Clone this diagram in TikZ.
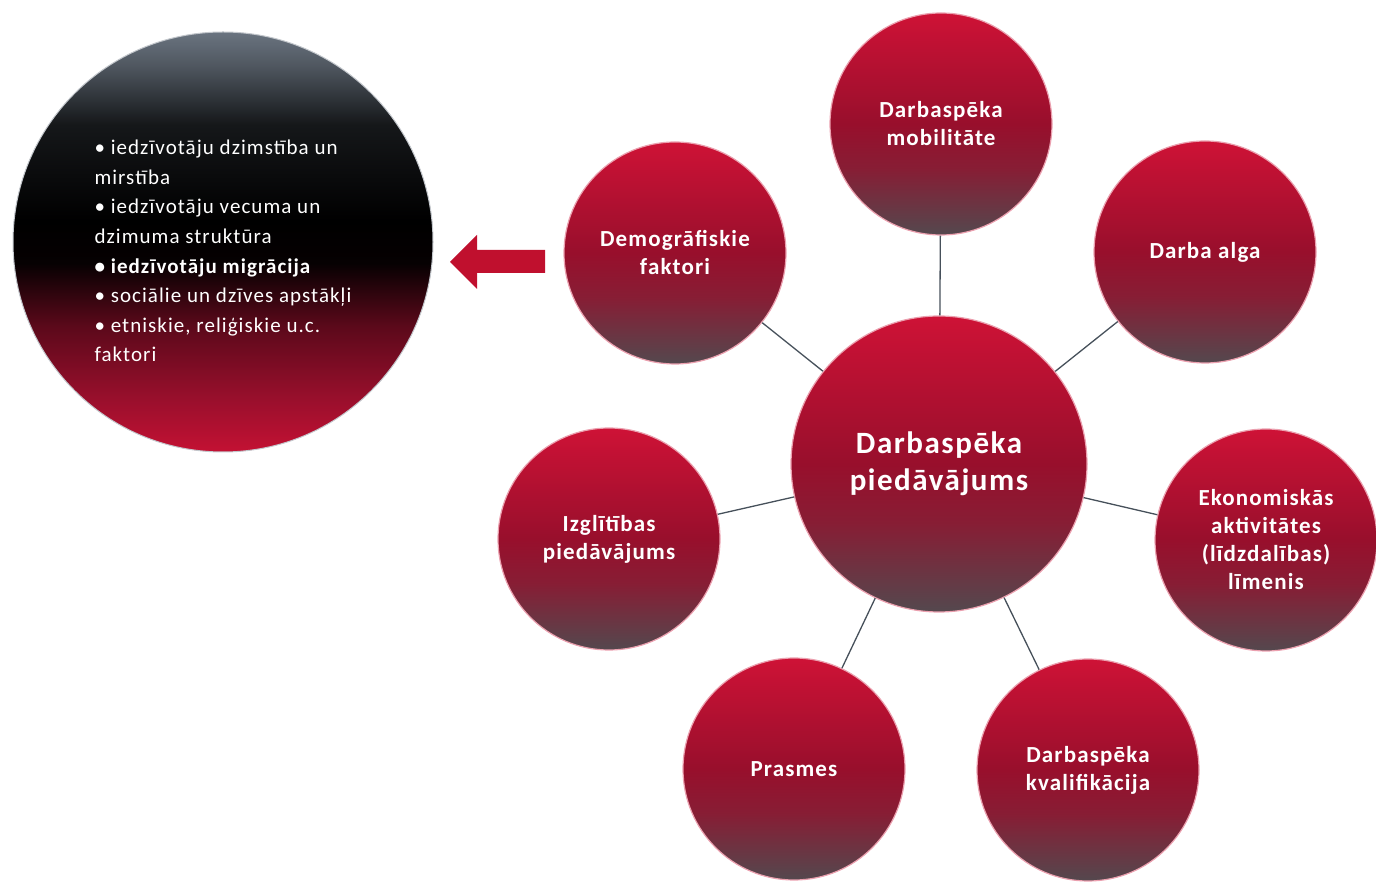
\documentclass[tikz,border=0pt]{standalone}
\usepackage{fontspec}
\setmainfont{Carlito}
\newfontfamily\bongfont[LetterSpace=5]{Carlito}
\definecolor{dndotren}{HTML}{CE1236}
\definecolor{dndogiua}{HTML}{980F2C}
\definecolor{dnxam}{HTML}{54484E}
\definecolor{dnxamxanh}{HTML}{6A7480}
\definecolor{dnduong}{HTML}{46505A}
\definecolor{dnmuiten}{HTML}{C0102E}
\def\maudo{dndotren}
\def\mauduong{dnduong}
\pgfdeclareverticalshading{bongdo}{100bp}{color(0bp)=(dnxam); color(25bp)=(dnxam); color(40bp)=(dndogiua!75!dnxam); color(50bp)=(dndogiua); color(75bp)=(dndotren); color(100bp)=(dndotren)}
\pgfdeclareverticalshading{bongden}{100bp}{color(0bp)=(dndotren!95!black); color(25bp)=(dndotren!95!black); color(31.5bp)=(dndogiua); color(40bp)=(dndogiua!60!black); color(47.5bp)=(black!96!dndogiua); color(52.5bp)=(black); color(64bp)=(black!80!dnxamxanh); color(71bp)=(dnxamxanh!75!black); color(75bp)=(dnxamxanh); color(100bp)=(dnxamxanh)}
\usepackage{tikz}

\begin{document}
\begin{tikzpicture}[x=1pt,y=1pt,declare function={R=148;r=111;Rt=210;}]
		\tikzstyle{ballstyle} = [circle,inner sep=0pt,minimum size={2*r},shade,shading=bongdo,draw=white!60!\maudo,line width=1.2pt,text=white,align=center,font=\bongfont\bfseries\fontsize{23}{28}\selectfont]
		\tikzstyle{bigballstyle} = [ballstyle,minimum size={2*R},font=\bongfont\bfseries\fontsize{31}{37}\selectfont]
		\tikzstyle{darkballstyle} = [circle,inner sep=0pt,minimum size={2*Rt},shade,shading=bongden,draw=white!60!dnxamxanh,line width=1pt]
		\tikzstyle{textstyle} = [inner sep=0pt,text=white,align=left,font=\bongfont\fontsize{21}{29.6}\selectfont]
		\tikzstyle{linestyle} = [line width=1.3pt,\mauduong]
		\useasboundingbox (0,0) rectangle (1376,881);
		% bong trung tam va cac bong xung quanh
		\node[bigballstyle] (cung) at (939,417) {Darbaspēka\\piedāvājums};
		\node[ballstyle] (mob) at (941,757) {Darbaspēka\\mobilitāte};
		\node[ballstyle] (alga) at (1205,629) {Darba alga};
		\node[ballstyle] (eko) at (1266,341) {Ekonomiskās\\aktivitātes\\(līdzdalības)\\līmenis};
		\node[ballstyle] (kval) at (1088,111) {Darbaspēka\\kvalifikācija};
		\node[ballstyle] (pras) at (794,112) {Prasmes};
		\node[ballstyle] (izgl) at (609,342) {Izglītības\\piedāvājums};
		\node[ballstyle] (demo) at (675,628) {Demogrāfiskie\\faktori};
		\foreach \n in {mob,alga,eko,kval,pras,izgl,demo}
		\draw[linestyle] (cung)--(\n);
		% bong den ben trai
		\node[darkballstyle] (dem) at (223,639) {};
		\node[textstyle] (demtxt) at ([yshift=-9pt]dem.center) {\textbullet{} iedzīvotāju dzimstība un\\
			mirstība\\
			\textbullet{} iedzīvotāju vecuma un\\
			dzimuma struktūra\\
			\textbf{\textbullet{} iedzīvotāju migrācija}\\
			\textbullet{} sociālie un dzīves apstākļi\\
			\textbullet{} etniskie, reliģiskie u.c.\\
			faktori};
		\fill[dnmuiten] (545,608)--(477,608)--(477,592)--(450,619)--(477,646)--(477,631)--(545,631)--cycle;
	\end{tikzpicture}
\end{document}
